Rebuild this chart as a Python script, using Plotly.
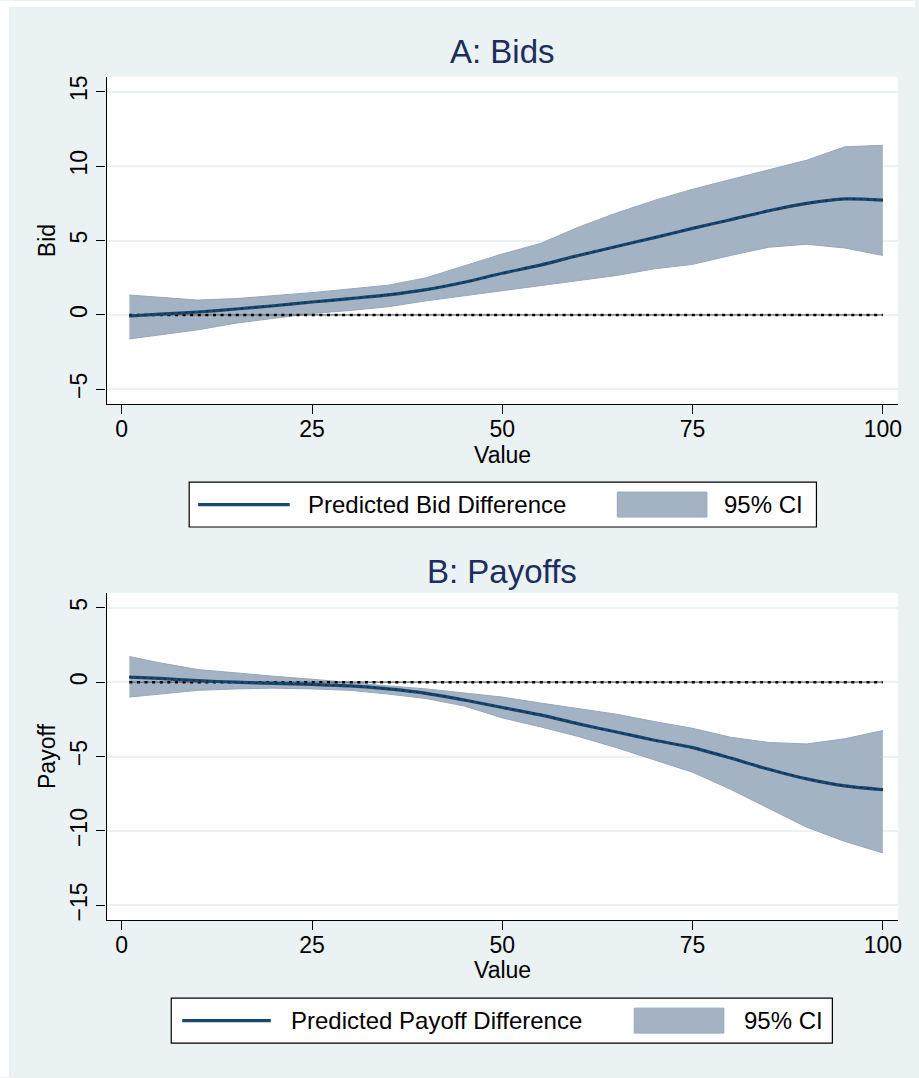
import plotly.graph_objects as go

# Grid of item values at which the differences were predicted
value = [1, 5, 10, 15, 20, 25, 30, 35, 40, 45, 50, 55, 60, 65, 70, 75, 80, 85, 90, 95, 100]

# Panel A: predicted bid difference and its 95% confidence band
bid_pred = [-0.07, 0.05, 0.2, 0.4, 0.62, 0.87, 1.1, 1.35, 1.7, 2.2, 2.8, 3.35, 4.0, 4.6,
            5.2, 5.82, 6.4, 7.0, 7.5, 7.8, 7.72]
bid_upper = [1.34, 1.2, 1.0, 1.1, 1.3, 1.5, 1.75, 2.0, 2.5, 3.3, 4.1, 4.8, 5.9, 6.85,
             7.7, 8.45, 9.1, 9.7, 10.4, 11.3, 11.4]
bid_lower = [-1.61, -1.35, -1.0, -0.55, -0.2, 0.1, 0.3, 0.55, 0.95, 1.3, 1.6, 1.95, 2.3,
             2.65, 3.1, 3.4, 4.0, 4.55, 4.75, 4.5, 4.0]

# Panel B: predicted payoff difference and its 95% confidence band
pay_pred = [0.34, 0.25, 0.1, 0.0, -0.08, -0.15, -0.25, -0.45, -0.75, -1.2, -1.7, -2.2,
            -2.8, -3.35, -3.9, -4.4, -5.1, -5.85, -6.5, -6.97, -7.22]
pay_upper = [1.72, 1.3, 0.85, 0.6, 0.4, 0.2, -0.05, -0.25, -0.45, -0.7, -1.0, -1.4,
             -1.8, -2.15, -2.65, -3.1, -3.7, -4.05, -4.15, -3.8, -3.25]
pay_lower = [-1.0, -0.8, -0.55, -0.45, -0.4, -0.45, -0.55, -0.8, -1.1, -1.6, -2.4,
             -3.0, -3.65, -4.4, -5.25, -6.05, -7.2, -8.5, -9.75, -10.7, -11.47]

baseline = 0
x_ticks = [0, 25, 50, 75, 100]
bid_ticks = [-5, 0, 5, 10, 15]
pay_ticks = [-15, -10, -5, 0, 5]

W, H = 919, 1078
BG = "#eaf2f3"
NAVY = "#1a476f"
BAND = "#a3b3c4"
TITLE_COLOR = "#1e2e5c"
FONT = "Liberation Sans, Arial, sans-serif"
TXT = 23


def px(x):
    return x / W


def py(y):
    return 1 - y / H


fig = go.Figure()


def add_panel(xa, ya, pred, upper, lower):
    fig.add_trace(go.Scatter(x=value, y=lower, mode="lines", xaxis=xa, yaxis=ya,
                             line=dict(color="#95a7ba", width=1), showlegend=False,
                             hoverinfo="skip"))
    fig.add_trace(go.Scatter(x=value, y=upper, mode="lines", xaxis=xa, yaxis=ya,
                             fill="tonexty", fillcolor=BAND,
                             line=dict(color="#95a7ba", width=1), showlegend=False,
                             hoverinfo="skip"))
    zx = [value[0], value[-1]]
    fig.add_trace(go.Scatter(x=zx, y=[baseline, baseline], mode="lines", xaxis=xa, yaxis=ya,
                             line=dict(color="#6e6e6e", width=1.2), showlegend=False))
    fig.add_trace(go.Scatter(x=zx, y=[baseline, baseline], mode="lines", xaxis=xa, yaxis=ya,
                             line=dict(color="black", width=2.6, dash="3px,4.6px"),
                             showlegend=False))
    fig.add_trace(go.Scatter(x=value, y=pred, mode="lines", xaxis=xa, yaxis=ya,
                             line=dict(color=NAVY, width=3.2, shape="spline", smoothing=0.8),
                             showlegend=False))
    fig.add_trace(go.Scatter(x=value, y=pred, mode="lines", xaxis=xa, yaxis=ya,
                             line=dict(color="#0f2e4c", width=1.6, shape="spline",
                                       smoothing=0.8, dash="2px,5px"),
                             showlegend=False))


add_panel("x", "y", bid_pred, bid_upper, bid_lower)
add_panel("x2", "y2", pay_pred, pay_upper, pay_lower)

tick_font = dict(family=FONT, size=TXT, color="black")

xaxis_common = dict(range=[-2, 102], tickvals=x_ticks, showgrid=False, zeroline=False,
                    showline=True, linecolor="black", linewidth=1.2, ticks="outside",
                    ticklen=9, tickcolor="black", tickwidth=1.2, tickfont=tick_font,
                    ticklabelstandoff=-5)
yaxis_common = dict(showgrid=True, gridcolor=BG, gridwidth=2, zeroline=False,
                    showline=True, linecolor="black", linewidth=1.2, ticks="outside",
                    ticklen=9, tickcolor="black", tickwidth=1.2, tickfont=tick_font,
                    tickangle=-90)

A_top, A_bot = 76, 404
B_top, B_bot = 593, 921
L, R = 107, 902

fig.update_layout(
    width=W, height=H,
    margin=dict(l=0, r=0, t=0, b=0),
    paper_bgcolor=BG,
    plot_bgcolor="white",
    font=dict(family=FONT, color="black"),
    showlegend=False,
    xaxis=dict(domain=[px(L), px(R)], anchor="y", **xaxis_common),
    yaxis=dict(domain=[py(A_bot), py(A_top)], anchor="x", range=[-6, 16],
               tickvals=bid_ticks,
               title=dict(text="Bid", font=dict(family=FONT, size=TXT, color="black"),
                          standoff=4),
               **yaxis_common),
    xaxis2=dict(domain=[px(L), px(R)], anchor="y2", **xaxis_common),
    yaxis2=dict(domain=[py(B_bot), py(B_top)], anchor="x2", range=[-16, 6],
                tickvals=pay_ticks,
                title=dict(text="Payoff", font=dict(family=FONT, size=TXT, color="black"),
                           standoff=4),
                **yaxis_common),
)

# White page strips along the top and left edges
shapes = [
    dict(type="rect", xref="paper", yref="paper", x0=0, x1=1, y0=py(6), y1=1,
         fillcolor="white", line=dict(width=0), layer="below"),
    dict(type="rect", xref="paper", yref="paper", x0=0, x1=px(9), y0=0, y1=1,
         fillcolor="white", line=dict(width=0), layer="below"),
]
annotations = []

# Panel titles and x-axis titles
x_mid = px((L + R) / 2)
for text, yc in [("A: Bids", 51), ("B: Payoffs", 572)]:
    annotations.append(dict(text=text, xref="paper", yref="paper", x=px(504.5), y=py(yc),
                            xanchor="center", yanchor="middle", showarrow=False,
                            font=dict(family=FONT, size=33, color=TITLE_COLOR)))
for yc in (455, 971):
    annotations.append(dict(text="Value", xref="paper", yref="paper", x=x_mid, y=py(yc),
                            xanchor="center", yanchor="middle", showarrow=False,
                            font=dict(family=FONT, size=TXT, color="black")))


def add_legend(box, line_x, text_x, label, swatch, ci_x):
    x0, x1, y0, y1 = box
    yc = (y0 + y1) / 2
    shapes.append(dict(type="rect", xref="paper", yref="paper", x0=px(x0), x1=px(x1),
                       y0=py(y1), y1=py(y0), fillcolor="white",
                       line=dict(color="black", width=1.2)))
    shapes.append(dict(type="line", xref="paper", yref="paper", x0=px(line_x[0]),
                       x1=px(line_x[1]), y0=py(yc), y1=py(yc),
                       line=dict(color=NAVY, width=3.2)))
    sx0, sx1, sy0, sy1 = swatch
    shapes.append(dict(type="rect", xref="paper", yref="paper", x0=px(sx0), x1=px(sx1),
                       y0=py(sy1), y1=py(sy0), fillcolor=BAND,
                       line=dict(color="#95a7ba", width=1)))
    annotations.append(dict(text=label, xref="paper", yref="paper", x=px(text_x), y=py(yc),
                            xanchor="left", yanchor="middle", showarrow=False,
                            font=dict(family=FONT, size=TXT + 1, color="black")))
    annotations.append(dict(text="95% CI", xref="paper", yref="paper", x=px(ci_x), y=py(yc),
                            xanchor="left", yanchor="middle", showarrow=False,
                            font=dict(family=FONT, size=TXT + 1, color="black")))


add_legend((190, 820, 482, 527), (199, 291), 307, "Predicted Bid Difference",
           (620, 710, 492, 517), 725)
add_legend((172, 836, 999, 1044), (183, 272), 290, "Predicted Payoff Difference",
           (637, 727, 1009, 1034), 745)

fig.update_layout(shapes=shapes, annotations=annotations)

fig.write_html("out.html")
